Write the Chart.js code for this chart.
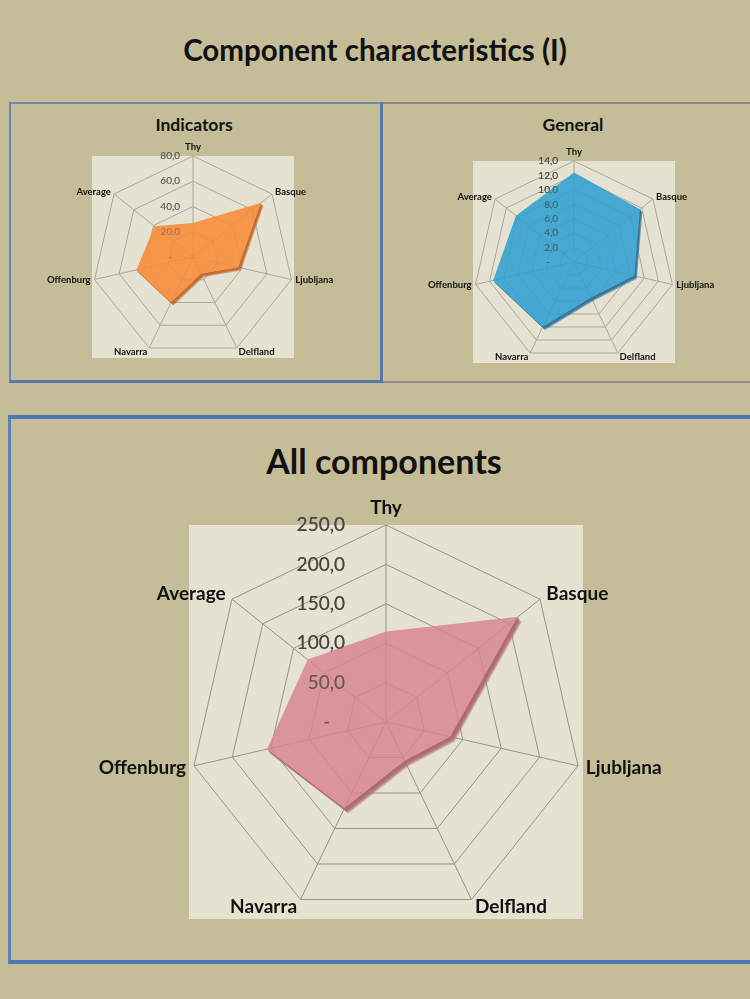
<!DOCTYPE html>
<html>
<head>
<meta charset="utf-8">
<script src="https://cdn.jsdelivr.net/npm/chart.js@4/dist/chart.umd.min.js"></script>
<style>
  html, body { margin: 0; padding: 0; }
  body {
    width: 750px; height: 999px; position: relative; overflow: hidden;
    background: #c5bd98;
    font-family: Lato, "Open Sans", "DejaVu Sans", sans-serif;
  }
  .panel { position: absolute; box-sizing: border-box; }
  #panelLeft {
    left: 9px; top: 102px; width: 374px; height: 281px;
    border-top: 2px solid #6d8ea6; border-left: 2px solid #5f84b6;
    border-right: 3px solid #5677ae; border-bottom: 3px solid #5677ae;
  }
  #panelRight {
    left: 383px; top: 102px; width: 380px; height: 281px;
    border-top: 2px solid #8a8a82; border-bottom: 2px solid #8a8a82;
  }
  #panelBottom {
    left: 8px; top: 415px; width: 760px; height: 549px;
    border-top: 4px solid #4f78b3; border-left: 3px solid #5a80b6;
    border-bottom: 4px solid #4f78b3;
  }
  .heading {
    position: absolute; text-align: center; font-weight: 700; color: #111;
    white-space: nowrap; line-height: 1;
  }
  #mainTitle { left: 0; width: 750px; top: 35px; font-size: 29.5px; }
  #allTitle { left: 184px; width: 400px; top: 444px; font-size: 34px; }
  #indTitle { left: 94px; width: 200px; top: 116px; font-size: 17.5px; }
  #genTitle { left: 473px; width: 200px; top: 116px; font-size: 17.5px; }
  canvas { position: absolute; }
  #indicatorsChart { left: 12px; top: 135px; }
  #generalChart { left: 388px; top: 135px; }
  #allChart { left: 12px; top: 490px; }
</style>
</head>
<body>
<div class="panel" id="panelLeft"></div>
<div class="panel" id="panelRight"></div>
<div class="panel" id="panelBottom"></div>

<div class="heading" id="mainTitle">Component characteristics (I)</div>
<div class="heading" id="indTitle">Indicators</div>
<div class="heading" id="genTitle">General</div>
<div class="heading" id="allTitle">All components</div>

<canvas id="indicatorsChart" width="368" height="245"></canvas>
<canvas id="generalChart" width="360" height="245"></canvas>
<canvas id="allChart" width="735" height="465"></canvas>

<script>
// Regions, clockwise from the top spoke
const categories = ['Thy', 'Basque', 'Ljubljana', 'Delfland', 'Navarra', 'Offenburg', 'Average'];

// Scores per region
const indicatorValues = [27, 69, 37, 15, 40, 46, 39];
const generalValues = [12.4, 11.7, 8.6, 5.5, 10.0, 11.5, 10.3];
const allComponentValues = [115, 214, 84, 55, 122, 155, 127];

// Radial tick marks for each chart
const indicatorTicks = [0, 20, 40, 60, 80];
const generalTicks = [0, 2, 4, 6, 8, 10, 12, 14];
const allComponentTicks = [0, 50, 100, 150, 200, 250];

// "250,0" style labels; zero is shown as a dash
function formatTick(v) {
  return v === 0 ? '-   ' : v.toFixed(1).replace('.', ',');
}

function drawTickLabels(chart, o, alpha) {
  const r = chart.scales.r;
  const ctx = chart.ctx;
  ctx.save();
  ctx.globalAlpha = alpha;
  ctx.font = o.tickFont;
  ctx.fillStyle = o.tickColor;
  ctx.textAlign = 'right';
  ctx.textBaseline = 'middle';
  o.ticks.forEach(v => {
    const d = r.getDistanceFromCenterForValue(v);
    ctx.fillText(formatTick(v), r.xCenter - o.tickOffset, r.yCenter - d);
  });
  ctx.restore();
}

// Plot backdrop, tick labels, extruded rim and spoke labels
const radarDecor = {
  id: 'radarDecor',
  beforeDraw(chart, args, o) {
    const a = chart.chartArea;
    const ctx = chart.ctx;
    ctx.save();
    ctx.fillStyle = o.plotBg;
    ctx.fillRect(a.left, a.top, a.right - a.left, a.bottom - a.top);
    ctx.restore();
  },
  beforeDatasetsDraw(chart, args, o) {
    drawTickLabels(chart, o, 1);
  },
  afterDatasetsDraw(chart, args, o) {
    const ctx = chart.ctx;
    const pts = chart.getDatasetMeta(0).data.map(p => ({ x: p.x, y: p.y }));
    // rim on the lower-right edges, kept outside the filled shape
    ctx.save();
    ctx.beginPath();
    ctx.rect(0, 0, chart.width, chart.height);
    pts.forEach((p, i) => (i ? ctx.lineTo(p.x, p.y) : ctx.moveTo(p.x, p.y)));
    ctx.closePath();
    ctx.clip('evenodd');
    ctx.fillStyle = o.rimColor;
    for (let k = 1; k <= o.rimDepth; k++) {
      ctx.globalAlpha = 1 - (k - 1) / (o.rimDepth + 2);
      ctx.beginPath();
      pts.forEach((p, i) => {
        const x = p.x + k * 0.8, y = p.y + k;
        i ? ctx.lineTo(x, y) : ctx.moveTo(x, y);
      });
      ctx.closePath();
      ctx.fill();
    }
    ctx.restore();

    // tick labels stay readable through the translucent fill
    drawTickLabels(chart, o, o.tickOverlay);

    // spoke labels
    const r = chart.scales.r;
    ctx.save();
    ctx.font = o.labelFont;
    ctx.fillStyle = '#111111';
    chart.data.labels.forEach((lab, i) => {
      const p = r.getPointPosition(i, r.drawingArea + o.labelPad);
      const s = Math.sin(r.getIndexAngle(i));
      if (Math.abs(s) < 0.01) {
        ctx.textAlign = 'center';
        ctx.textBaseline = 'bottom';
      } else {
        ctx.textAlign = s > 0 ? 'left' : 'right';
        ctx.textBaseline = 'middle';
      }
      ctx.fillText(lab, p.x, p.y);
    });
    ctx.restore();
  }
};

function makeRadar(id, values, ticks, look) {
  return new Chart(document.getElementById(id), {
    type: 'radar',
    data: {
      labels: categories,
      datasets: [{
        data: values,
        backgroundColor: look.fill,
        borderWidth: 0,
        pointRadius: 0,
        pointHoverRadius: 0,
        fill: true
      }]
    },
    plugins: [radarDecor],
    options: {
      responsive: false,
      animation: false,
      devicePixelRatio: 1,
      layout: { padding: look.padding },
      plugins: {
        legend: { display: false },
        tooltip: { enabled: false },
        radarDecor: {
          plotBg: '#e6e2d1',
          ticks: ticks,
          tickFont: look.tickFont,
          tickColor: look.tickColor,
          tickOffset: look.tickOffset,
          tickOverlay: look.tickOverlay,
          labelFont: look.labelFont,
          labelPad: look.labelPad,
          rimColor: look.rim,
          rimDepth: look.rimDepth
        }
      },
      scales: {
        r: {
          min: ticks[0],
          max: ticks[ticks.length - 1],
          ticks: { display: false, stepSize: ticks[1] - ticks[0] },
          pointLabels: { display: false },
          grid: { color: look.gridColor, lineWidth: 1 },
          angleLines: { color: look.gridColor, lineWidth: 1 }
        }
      }
    }
  });
}

makeRadar('indicatorsChart', indicatorValues, indicatorTicks, {
  fill: 'rgba(248, 137, 52, 0.86)',
  rim: '#c0692c',
  rimDepth: 3,
  padding: { left: 80, right: 86, top: 21, bottom: 22 },
  gridColor: '#a9a7a0',
  tickFont: '10px Lato, "Open Sans", sans-serif',
  tickColor: '#5a5a5a',
  tickOffset: 13,
  tickOverlay: 0.45,
  labelFont: 'bold 9.5px Lato, "Open Sans", sans-serif',
  labelPad: 4
});

makeRadar('generalChart', generalValues, generalTicks, {
  fill: 'rgba(44, 160, 208, 0.86)',
  rim: '#2f7398',
  rimDepth: 3,
  padding: { left: 85, right: 73, top: 26, bottom: 17 },
  gridColor: '#a9a7a0',
  tickFont: '10px Lato, "Open Sans", sans-serif',
  tickColor: '#4a4a4a',
  tickOffset: 16,
  tickOverlay: 0.7,
  labelFont: 'bold 9.5px Lato, "Open Sans", sans-serif',
  labelPad: 4
});

makeRadar('allChart', allComponentValues, allComponentTicks, {
  fill: 'rgba(215, 132, 144, 0.82)',
  rim: '#ad6b74',
  rimDepth: 5,
  padding: { left: 177, right: 164, top: 35, bottom: 36 },
  gridColor: '#949490',
  tickFont: '19px Lato, "Open Sans", sans-serif',
  tickColor: '#454545',
  tickOffset: 41,
  tickOverlay: 0.7,
  labelFont: 'bold 19px Lato, "Open Sans", sans-serif',
  labelPad: 8
});
</script>
</body>
</html>
